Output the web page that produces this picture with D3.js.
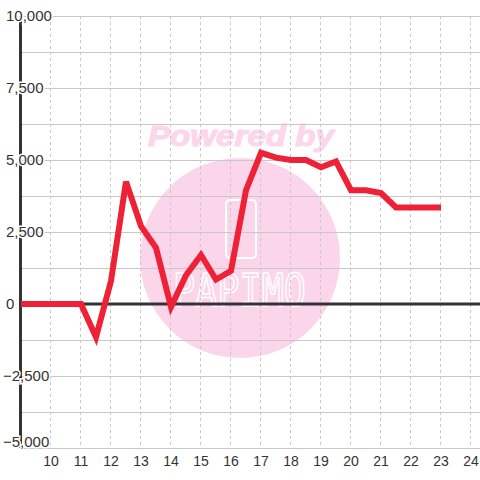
<!DOCTYPE html>
<html><head><meta charset="utf-8">
<script src="https://cdn.jsdelivr.net/npm/d3@7"></script>
<style>html,body{margin:0;padding:0;background:#fff;}svg{display:block;}</style>
</head><body>
<svg id="c" width="480" height="480"></svg>
<script>
const xValues = [9, 9.5, 10, 10.5, 11, 11.5, 12, 12.5, 13, 13.5, 14, 14.5, 15, 15.5, 16, 16.5, 17, 17.5, 18, 18.5, 19, 19.5, 20, 20.5, 21, 21.5, 22, 22.5, 23];
const yValues = [0, 0, 0, 0, 0, -1150, 800, 4250, 2700, 1950, -100, 1000, 1700, 850, 1150, 3950, 5250, 5080, 5000, 5000, 4750, 4950, 3950, 3950, 3850, 3350, 3350, 3350, 3350];
const xTicks = [10, 11, 12, 13, 14, 15, 16, 17, 18, 19, 20, 21, 22, 23, 24];
const yTickLabels = [-5000, -2500, 0, 2500, 5000, 7500, 10000];
const yGrid = [-5000, -3750, -2500, -1250, 1250, 2500, 3750, 5000, 6250, 7500, 8750, 10000];

const svg = d3.select("#c");
const x = d3.scaleLinear().domain([9, 24.3]).range([21, 480]);
const y = d3.scaleLinear().domain([-5000, 10000]).range([448, 16]);
const font = "'Liberation Sans', Arial, sans-serif";

// watermark
const wm = svg.append("g");
wm.append("circle").attr("cx", 240).attr("cy", 258).attr("r", 100).attr("fill", "#fbd6eb");
wm.append("text").attr("x", 241).attr("y", 146).attr("text-anchor", "middle")
  .attr("font-family", font).attr("font-size", 30).attr("font-weight", "bold").attr("font-style", "italic")
  .attr("textLength", 186).attr("lengthAdjust", "spacingAndGlyphs")
  .attr("fill", "#fcd7ec").attr("stroke", "#fcd7ec").attr("stroke-width", 1.2).text("Powered by");
wm.append("rect").attr("x", 226).attr("y", 200).attr("width", 30).attr("height", 58).attr("rx", 4)
  .attr("fill", "none").attr("stroke", "#fff").attr("stroke-width", 2);
wm.append("text").attr("x", 173).attr("y", 306)
  .attr("font-family", "'DejaVu Sans Mono', monospace").attr("font-size", 44)
  .attr("textLength", 133).attr("lengthAdjust", "spacingAndGlyphs")
  .attr("fill", "none").attr("stroke", "#fff").attr("stroke-width", 1.6).text("PAPIMO");

// gridlines
svg.append("g").selectAll("line").data(yGrid).join("line")
  .attr("x1", 21).attr("x2", 480).attr("y1", d => y(d) + 0.5).attr("y2", d => y(d) + 0.5)
  .attr("stroke", "#c8c8c8").attr("stroke-width", 1);
svg.append("g").selectAll("line").data(xTicks).join("line")
  .attr("x1", d => Math.round(x(d)) - 0.5).attr("x2", d => Math.round(x(d)) - 0.5)
  .attr("y1", 16).attr("y2", 448)
  .attr("stroke", "#c8c8c8").attr("stroke-width", 1).attr("stroke-dasharray", "3,3");

// zero line
svg.append("line").attr("x1", 21).attr("x2", 480).attr("y1", y(0)).attr("y2", y(0))
  .attr("stroke", "#333").attr("stroke-width", 3);
// y axis bar
svg.append("line").attr("x1", 20.5).attr("x2", 20.5).attr("y1", 16).attr("y2", 448)
  .attr("stroke", "#333").attr("stroke-width", 3);

// data line
const line = d3.line().x((d, i) => x(xValues[i])).y(d => y(d));
svg.append("path").datum(yValues).attr("d", line)
  .attr("fill", "none").attr("stroke", "#ef2136").attr("stroke-width", 6)
  .attr("stroke-linejoin", "miter").attr("stroke-linecap", "butt");

// y labels
svg.append("g").selectAll("text").data(yTickLabels).join("text")
  .attr("x", d => d < 0 ? 3 : 6)
  .attr("y", d => y(d) + (d === -5000 ? -6 : 0))
  .attr("dy", "0.36em")
  .attr("font-family", font).attr("font-size", 15).attr("fill", "#333")
  .attr("stroke", "#fff").attr("stroke-width", 3).attr("paint-order", "stroke")
  .text(d => d3.format(",")(d));

// x labels
svg.append("g").selectAll("text").data(xTicks).join("text")
  .attr("x", d => x(d)).attr("y", 466).attr("text-anchor", "middle")
  .attr("font-family", font).attr("font-size", 14).attr("fill", "#333")
  .text(d => d);
</script>
</body></html>
